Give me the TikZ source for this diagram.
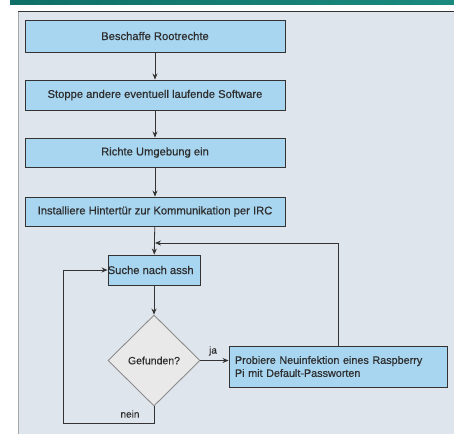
\documentclass[tikz,border=0pt]{standalone}
\usepackage{fontspec}
\setmainfont{Liberation Sans}
\newfontface\semib{Liberation Sans}[FakeBold=0.6]
\usetikzlibrary{shapes.geometric,arrows.meta}
\definecolor{panel}{HTML}{DFE5EC}
\definecolor{boxblue}{HTML}{A8D5F0}
\definecolor{linegray}{HTML}{333333}
\definecolor{txt}{HTML}{2E2E2E}
\definecolor{dia}{HTML}{E9E9E9}
\definecolor{tealA}{HTML}{0F6F66}
\definecolor{tealB}{HTML}{1B8A7E}
\tikzset{
  stepbox/.style={draw=linegray, line width=0.9pt, fill=boxblue, minimum width=260pt, text=txt,
    font=\semib\fontsize{11.2}{13}\selectfont, inner sep=2pt},
  decbox/.style={diamond, draw=gray!90, line width=0.9pt, fill=dia, aspect=1, inner sep=0pt,
    minimum width=92pt, minimum height=91pt, text=txt, font=\semib\fontsize{10.5}{12}\selectfont},
  conn/.style={draw=linegray, line width=0.8pt},
  arr/.style={conn, -{Stealth[length=6pt,width=5pt]}},
  lbl/.style={text=txt, font=\semib\fontsize{10}{12}\selectfont, inner sep=0pt}
}
\begin{document}
\begin{tikzpicture}[x=1pt,y=-1pt]
\useasboundingbox (0,0) rectangle (454,434);
% top bar
\shade[left color=tealA, right color=tealB] (10,0) rectangle (454,4.5);
% panel
\fill[panel] (18,10.5) rectangle (454,434);
\draw[gray!70, line width=0.9pt] (18,434) -- (18,11);
\draw[linegray, line width=1pt] (18,11) -- (454,11);
% nodes
\node[stepbox, minimum height=32pt] (b1) at (155,36) {Beschaffe Rootrechte};
\node[stepbox, minimum height=30pt] (b2) at (155,95) {Stoppe andere eventuell laufende Software};
\node[stepbox, minimum height=29pt] (b3) at (155,152.5) {Richte Umgebung ein};
\node[stepbox, minimum height=29pt] (b4) at (155,211.5) {Installiere Hintert\"ur zur Kommunikation per IRC};
\coordinate (j) at (155,243);
\node[stepbox, minimum width=92pt, minimum height=30pt] (s) at (154,270) {};
\node[anchor=west, text=txt, font=\semib\fontsize{11.2}{13}\selectfont, inner sep=0pt] (st) at (s.west) {Suche nach assh};
\node[decbox] (d) at (154,360.5) {Gefunden?};
\node[stepbox, minimum width=218pt, minimum height=41pt, align=left, text width=206pt,
  font=\semib\fontsize{10.8}{13}\selectfont] (p) at (338,366.5)
  {Probiere Neuinfektion eines Raspberry\\Pi mit Default-Passworten};
\coordinate (c1) at (63,423);
% connectors
\draw[arr] (b1) -- (b2);
\draw[arr] (b2) -- (b3);
\draw[arr] (b3) -- (b4);
\draw[arr] (b4) -- (s);
\draw[arr] (p.north) |- (j);
\draw[arr] (s) -- (d);
\draw[arr] (d.east) -- (p.west |- d.east);
\draw[arr] (d.south) |- (c1) |- (s.west);
\node[lbl] (ja) at (213,351) {ja};
\node[lbl] (nein) at (130,414) {nein};
\end{tikzpicture}
\end{document}
